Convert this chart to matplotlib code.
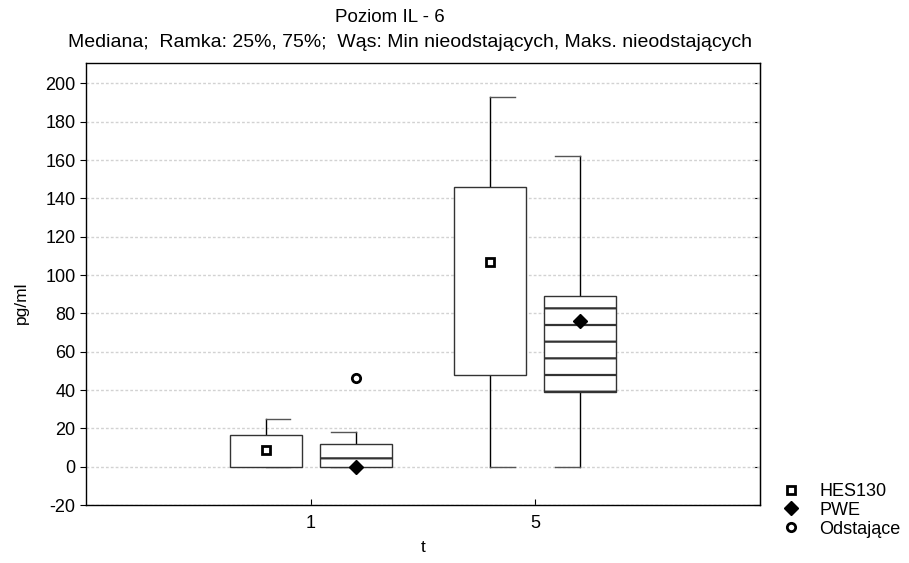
import matplotlib.pyplot as plt
from matplotlib.patches import Rectangle
from matplotlib.lines import Line2D

plt.rcParams['font.family'] = ['Liberation Sans', 'DejaVu Sans']
plt.rcParams['hatch.linewidth'] = 1.6
plt.rcParams['axes.unicode_minus'] = False

# t levels on the x axis
groups = ['1', '5']

# HES130: whisker min, Q1, median, Q3, whisker max
hes_min = [0, 0]
hes_q1 = [0, 48]
hes_med = [8.5, 107]
hes_q3 = [16.5, 146]
hes_max = [25, 193]

# PWE
pwe_min = [0, 0]
pwe_q1 = [0, 39]
pwe_med = [0, 76]
pwe_q3 = [12, 89]
pwe_max = [18, 162]

# outliers (group index, value)
out_group = [0]
out_value = [46.5]

fig = plt.figure(figsize=(9.09, 5.63), dpi=100)
ax = fig.add_axes([0.0946, 0.103, 0.7414, 0.785])

offset = 0.2
half_w = 0.16
cap = 0.11


def draw_box(x, lo, q1, med, q3, hi, hatch, marker, cap_side):
    ax.add_patch(Rectangle((x - half_w, q1), 2 * half_w, q3 - q1,
                           facecolor='white', edgecolor='#333333',
                           linewidth=1.0, hatch=hatch, zorder=3))
    # whiskers
    ax.plot([x, x], [q3, hi], color='black', lw=1.0, zorder=2)
    ax.plot([x, x], [lo, q1], color='black', lw=1.0, zorder=2)
    # one-sided caps
    for v in (lo, hi):
        ax.plot([x, x + cap_side * cap], [v, v], color='#555555',
                lw=1.0, zorder=2)
    if marker == 's':
        ax.plot(x, med, marker='s', ms=6, mfc='white', mec='black',
                mew=2.0, zorder=5)
    else:
        ax.plot(x, med, marker='D', ms=7, color='black', zorder=5)


for i in range(len(groups)):
    c = i + 1
    draw_box(c - offset, hes_min[i], hes_q1[i], hes_med[i], hes_q3[i],
             hes_max[i], None, 's', 1)
    draw_box(c + offset, pwe_min[i], pwe_q1[i], pwe_med[i], pwe_q3[i],
             pwe_max[i], '-', 'D', -1)

for g, v in zip(out_group, out_value):
    ax.plot(g + 1 + offset, v, marker='o', ms=6, mfc='white', mec='black',
            mew=2.0, zorder=5)

ax.set_xlim(0, 3)
ax.set_ylim(-20, 210.6)
ax.set_xticks([1, 2])
ax.set_xticklabels(groups)
ax.set_yticks(range(-20, 201, 20))
ax.yaxis.grid(True, linestyle=(0, (2, 1.5)), color='#d2d2d2', lw=1.0)
ax.set_axisbelow(True)
ax.tick_params(axis='y', direction='out', length=4, labelsize=13, pad=3.6)
ax.tick_params(axis='x', direction='in', length=4, labelsize=13, pad=7)
for s in ax.spines.values():
    s.set_linewidth(1.0)

# inward ticks on the right side, no labels
right = ax.secondary_yaxis('right')
right.set_yticks(range(-20, 201, 20))
right.tick_params(direction='in', length=4, labelright=False)

ax.set_ylabel('pg/ml', fontsize=12.5, labelpad=12, y=0.457)
ax.set_xlabel('t', fontsize=12.5, labelpad=6)

fig.text(0.429, 0.969, 'Poziom IL - 6', ha='center', va='center', fontsize=13.5)
fig.text(0.451, 0.924,
         'Mediana;  Ramka: 25%, 75%;  Wąs: Min nieodstających, Maks. nieodstających',
         ha='center', va='center', fontsize=14)

handles = [
    Line2D([], [], ls='none', marker='s', ms=6, mfc='white', mec='black', mew=2.0),
    Line2D([], [], ls='none', marker='D', ms=7, color='black'),
    Line2D([], [], ls='none', marker='o', ms=6, mfc='white', mec='black', mew=2.0),
]
fig.legend(handles, ['HES130', 'PWE', 'Odstające'], loc='upper left',
           bbox_to_anchor=(782 / 909, 1 - 483 / 563), frameon=False,
           fontsize=13, borderaxespad=0, borderpad=0,
           handlelength=1.0, handletextpad=1.05, labelspacing=0.1)

fig.savefig('out.png', dpi=100)
